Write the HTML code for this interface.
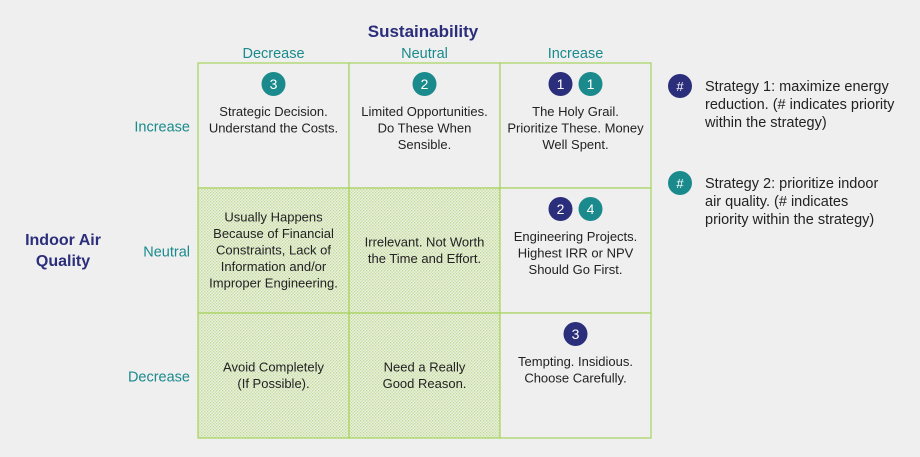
<!DOCTYPE html>
<html><head><meta charset="utf-8"><style>
body{margin:0;background:#efefef;}
svg{display:block;font-family:"Liberation Sans",sans-serif;}
</style></head><body>
<svg id="chart" width="920" height="457" viewBox="0 0 920 457" xmlns="http://www.w3.org/2000/svg">
<defs>
<pattern id="dots" width="3" height="3" patternUnits="userSpaceOnUse">
<rect width="3" height="3" fill="#ecefe2"/>
<rect x="0" y="0" width="1.3" height="1.3" fill="#bfdc94"/>
<rect x="1.5" y="1.5" width="1.3" height="1.3" fill="#bfdc94"/>
</pattern>
</defs>
<rect width="920" height="457" fill="#efefef"/>
<text x="423" y="37" text-anchor="middle" font-size="17" font-weight="bold" fill="#2b2e7a">Sustainability</text>
<text x="63" y="245" text-anchor="middle" font-size="16" font-weight="bold" fill="#2b2e7a"><tspan x="63">Indoor Air</tspan><tspan x="63" dy="21">Quality</tspan></text>
<g id="grid"></g>
<g id="legend">
<circle cx="680" cy="86" r="12" fill="#2b2e7a"/>
<text x="680" y="91" text-anchor="middle" font-size="13" fill="#fff">#</text>
<text font-size="14.5" fill="#222"><tspan x="705" y="91">Strategy 1: maximize energy</tspan><tspan x="705" dy="18">reduction. (# indicates priority</tspan><tspan x="705" dy="18">within the strategy)</tspan></text>
<circle cx="680" cy="183" r="12" fill="#1a8a8c"/>
<text x="680" y="188" text-anchor="middle" font-size="13" fill="#fff">#</text>
<text font-size="14.5" fill="#222"><tspan x="705" y="188">Strategy 2: prioritize indoor</tspan><tspan x="705" dy="18">air quality. (# indicates</tspan><tspan x="705" dy="18">priority within the strategy)</tspan></text>
</g>
</svg>
<script>
const colLabels=["Decrease","Neutral","Increase"];
const rowLabels=["Increase","Neutral","Decrease"];
const cellTexts=[
 [["Strategic Decision.","Understand the Costs."],["Limited Opportunities.","Do These When","Sensible."],["The Holy Grail.","Prioritize These. Money","Well Spent."]],
 [["Usually Happens","Because of Financial","Constraints, Lack of","Information and/or","Improper Engineering."],["Irrelevant. Not Worth","the Time and Effort."],["Engineering Projects.","Highest IRR or NPV","Should Go First."]],
 [["Avoid Completely","(If Possible)."],["Need a Really","Good Reason."],["Tempting. Insidious.","Choose Carefully."]]
];
const shaded=[[0,0,0],[1,1,0],[1,1,0]];
const strategy1=[[null,null,1],[null,null,2],[null,null,3]];
const strategy2=[[3,2,1],[null,null,4],[null,null,null]];
const NS="http://www.w3.org/2000/svg";
const g=document.getElementById('grid');
const x0=198,y0=63,cw=151,ch=125,lh=16.5;
function el(t,a,p){const e=document.createElementNS(NS,t);for(const k in a)e.setAttribute(k,a[k]);(p||g).appendChild(e);return e;}
colLabels.forEach((c,i)=>{const t=el('text',{x:x0+cw*i+cw/2,y:58,'text-anchor':'middle','font-size':14.5,fill:'#1a8a8c'});t.textContent=c;

});
rowLabels.forEach((r,i)=>{const t=el('text',{x:190,y:y0+ch*i+ch/2+6,'text-anchor':'end','font-size':14.5,fill:'#1a8a8c'});t.textContent=r;

});
for(let r=0;r<3;r++)for(let c=0;c<3;c++){
 const x=x0+cw*c,y=y0+ch*r;
 const rc=el('rect',{x:x,y:y,width:cw,height:ch,fill:shaded[r][c]?'url(#dots)':'#efefef',stroke:'#a6d25c','stroke-width':1.2});
 
 
 const b=[];if(strategy1[r][c]!=null)b.push([strategy1[r][c],'#2b2e7a']);if(strategy2[r][c]!=null)b.push([strategy2[r][c],'#1a8a8c']);
 const cx=x+cw/2;
 b.forEach((bb,i)=>{const bx=cx+(i-(b.length-1)/2)*30;
  const ci=el('circle',{cx:bx,cy:y+21,r:12,fill:bb[1]});
  
  
  const t=el('text',{x:bx,y:y+26,'text-anchor':'middle','font-size':14,fill:'#fff'});t.textContent=bb[0];});
 const lines=cellTexts[r][c];
 let ty;
 if(b.length) ty=y+53; else ty=y+ch/2-(lines.length-1)*lh/2+4;
 const t=el('text',{'text-anchor':'middle','font-size':13,fill:'#222'});
 
 
 lines.forEach((l,i)=>{const s=el('tspan',{x:cx,y:ty+i*lh},t);s.textContent=l;});
}
</script>
</body></html>
